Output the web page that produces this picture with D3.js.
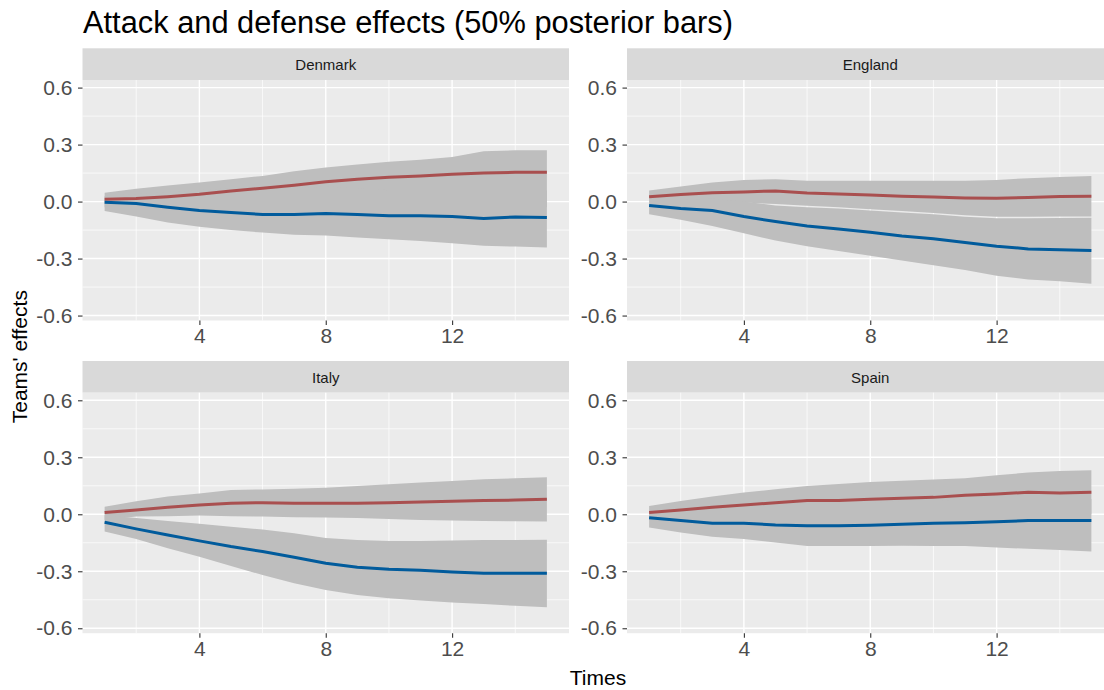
<!DOCTYPE html>
<html>
<head>
<meta charset="utf-8">
<script src="https://cdn.jsdelivr.net/npm/d3@7"></script>
<style>
  body { margin: 0; background: #fff; }
  svg { display: block; font-family: "Liberation Sans", Arial, sans-serif; }
</style>
</head>
<body>
<div id="chart"></div>
<script>
// data
const times = [1, 2, 3, 4, 5, 6, 7, 8, 9, 10, 11, 12, 13, 14, 15];
const teams = ["Denmark", "England", "Italy", "Spain"];
const xTicks = [4, 8, 12];
const xMinor = [2, 6, 10, 14];
const yTicks = [-0.6, -0.3, 0, 0.3, 0.6];
const yMinor = [-0.45, -0.15, 0.15, 0.45];

// Denmark
const denmarkAtt   = [0.012, 0.016, 0.026, 0.039, 0.056, 0.070, 0.086, 0.104, 0.118, 0.128, 0.135, 0.144, 0.151, 0.154, 0.154];
const denmarkAttHi = [0.047, 0.067, 0.085, 0.100, 0.118, 0.135, 0.160, 0.180, 0.195, 0.210, 0.220, 0.235, 0.265, 0.270, 0.270];
const denmarkAttLo = [-0.03, -0.04, -0.05, -0.06, -0.06, -0.06, -0.05, -0.04, -0.03, -0.03, -0.03, -0.03, -0.03, -0.03, -0.03];
const denmarkDef   = [-0.004, -0.010, -0.030, -0.047, -0.058, -0.068, -0.068, -0.063, -0.068, -0.075, -0.074, -0.079, -0.089, -0.081, -0.084];
const denmarkDefHi = [0.03, 0.04, 0.05, 0.06, 0.07, 0.07, 0.07, 0.08, 0.07, 0.06, 0.06, 0.06, 0.06, 0.06, 0.06];
const denmarkDefLo = [-0.050, -0.079, -0.110, -0.133, -0.150, -0.163, -0.175, -0.179, -0.189, -0.198, -0.207, -0.220, -0.233, -0.237, -0.242];

// England
const englandAtt   = [0.026, 0.037, 0.046, 0.051, 0.056, 0.045, 0.040, 0.034, 0.028, 0.024, 0.019, 0.017, 0.022, 0.027, 0.028];
const englandAttHi = [0.058, 0.079, 0.100, 0.114, 0.118, 0.110, 0.109, 0.109, 0.110, 0.110, 0.110, 0.114, 0.123, 0.130, 0.135];
const englandAttLo = [-0.005, 0.000, 0.000, -0.005, -0.013, -0.022, -0.030, -0.040, -0.050, -0.060, -0.072, -0.080, -0.080, -0.079, -0.078];
const englandDef   = [-0.021, -0.037, -0.047, -0.079, -0.105, -0.128, -0.144, -0.161, -0.181, -0.196, -0.216, -0.235, -0.249, -0.254, -0.258];
const englandDefHi = [0.010, 0.010, 0.015, 0.000, -0.020, -0.030, -0.037, -0.047, -0.057, -0.067, -0.080, -0.088, -0.088, -0.087, -0.085];
const englandDefLo = [-0.067, -0.096, -0.128, -0.167, -0.205, -0.235, -0.260, -0.285, -0.310, -0.335, -0.360, -0.390, -0.410, -0.420, -0.433];

// Italy
const italyAtt   = [0.009, 0.023, 0.037, 0.049, 0.058, 0.061, 0.058, 0.058, 0.058, 0.061, 0.065, 0.068, 0.072, 0.075, 0.079];
const italyAttHi = [0.040, 0.068, 0.093, 0.110, 0.128, 0.131, 0.135, 0.139, 0.149, 0.158, 0.167, 0.175, 0.184, 0.190, 0.195];
const italyAttLo = [-0.030, -0.012, -0.010, -0.007, -0.010, -0.012, -0.015, -0.017, -0.020, -0.025, -0.030, -0.033, -0.035, -0.037, -0.038];
const italyDef   = [-0.042, -0.077, -0.109, -0.140, -0.170, -0.196, -0.226, -0.258, -0.279, -0.289, -0.295, -0.304, -0.310, -0.310, -0.310];
const italyDefHi = [-0.005, -0.020, -0.035, -0.050, -0.065, -0.080, -0.100, -0.125, -0.135, -0.140, -0.140, -0.138, -0.136, -0.135, -0.134];
const italyDefLo = [-0.091, -0.130, -0.179, -0.223, -0.272, -0.320, -0.363, -0.398, -0.425, -0.442, -0.454, -0.465, -0.472, -0.482, -0.489];

// Spain
const spainAtt   = [0.009, 0.023, 0.037, 0.049, 0.061, 0.072, 0.072, 0.079, 0.084, 0.089, 0.100, 0.107, 0.116, 0.112, 0.116];
const spainAttHi = [0.044, 0.070, 0.093, 0.114, 0.132, 0.149, 0.160, 0.170, 0.177, 0.183, 0.190, 0.205, 0.220, 0.228, 0.232];
const spainAttLo = [-0.03, -0.04, -0.04, -0.04, -0.04, -0.04, -0.03, -0.03, -0.02, -0.02, -0.01, -0.01, 0.00, 0.00, 0.00];
const spainDef   = [-0.018, -0.033, -0.047, -0.047, -0.056, -0.061, -0.061, -0.058, -0.053, -0.047, -0.044, -0.039, -0.033, -0.033, -0.033];
const spainDefHi = [0.02, 0.03, 0.04, 0.05, 0.05, 0.06, 0.06, 0.06, 0.07, 0.07, 0.08, 0.08, 0.08, 0.08, 0.08];
const spainDefLo = [-0.070, -0.096, -0.118, -0.130, -0.149, -0.167, -0.167, -0.167, -0.165, -0.167, -0.167, -0.175, -0.182, -0.188, -0.196];

const series = {
  Denmark: { att: denmarkAtt, attHi: denmarkAttHi, attLo: denmarkAttLo, def: denmarkDef, defHi: denmarkDefHi, defLo: denmarkDefLo },
  England: { att: englandAtt, attHi: englandAttHi, attLo: englandAttLo, def: englandDef, defHi: englandDefHi, defLo: englandDefLo },
  Italy:   { att: italyAtt,   attHi: italyAttHi,   attLo: italyAttLo,   def: italyDef,   defHi: italyDefHi,   defLo: italyDefLo },
  Spain:   { att: spainAtt,   attHi: spainAttHi,   attLo: spainAttLo,   def: spainDef,   defHi: spainDefHi,   defLo: spainDefLo }
};

// layout
const W = 1104, H = 690;
const colX = [82.5, 627], panelW = 486.5;
const rowY = [48.3, 361], stripH = 31.7, panelH = 240.5;
const attColor = "#A94F4F", defColor = "#015B9C", ribbonFill = "#BEBEBE";

const svg = d3.select("#chart")
  .append("svg")
    .attr("width", W)
    .attr("height", H);

const x = d3.scaleLinear().domain([0.3, 15.7]).range([0, panelW]);
const y = d3.scaleLinear().domain([-0.626, 0.64]).range([panelH, 0]);

const band = (lo, hi) => d3.area()
  .x((d, i) => x(times[i]))
  .y0((d, i) => y(lo[i]))
  .y1((d, i) => y(hi[i]));

const line = d3.line()
  .x((d, i) => x(times[i]))
  .y(d => y(d));

teams.forEach((team, k) => {
  const col = k % 2, row = Math.floor(k / 2);
  const s = series[team];

  // strip
  const strip = svg.append("g")
    .attr("transform", `translate(${colX[col]},${rowY[row]})`);
  strip.append("rect")
    .attr("width", panelW)
    .attr("height", stripH)
    .attr("fill", "#D9D9D9");
  strip.append("text")
    .attr("x", panelW / 2)
    .attr("y", 22)
    .attr("text-anchor", "middle")
    .attr("fill", "#1A1A1A")
    .style("font-size", "15px")
    .text(team);

  const g = svg.append("g")
    .attr("transform", `translate(${colX[col]},${rowY[row] + stripH})`);

  g.append("rect")
    .attr("width", panelW)
    .attr("height", panelH)
    .attr("fill", "#EBEBEB");

  // grid
  g.selectAll(".ymin").data(yMinor).join("line")
    .attr("x1", 0).attr("x2", panelW)
    .attr("y1", d => y(d)).attr("y2", d => y(d))
    .attr("stroke", "#fff").attr("stroke-width", 0.7);
  g.selectAll(".xmin").data(xMinor).join("line")
    .attr("y1", 0).attr("y2", panelH)
    .attr("x1", d => x(d)).attr("x2", d => x(d))
    .attr("stroke", "#fff").attr("stroke-width", 0.7);
  g.selectAll(".ymaj").data(yTicks).join("line")
    .attr("x1", 0).attr("x2", panelW)
    .attr("y1", d => y(d)).attr("y2", d => y(d))
    .attr("stroke", "#fff").attr("stroke-width", 1.4);
  g.selectAll(".xmaj").data(xTicks).join("line")
    .attr("y1", 0).attr("y2", panelH)
    .attr("x1", d => x(d)).attr("x2", d => x(d))
    .attr("stroke", "#fff").attr("stroke-width", 1.4);

  // ribbons
  g.append("path")
    .attr("d", band(s.attLo, s.attHi)(times))
    .attr("fill", ribbonFill);
  g.append("path")
    .attr("d", band(s.defLo, s.defHi)(times))
    .attr("fill", ribbonFill);

  // lines
  g.append("path")
    .attr("d", line(s.att))
    .attr("fill", "none")
    .attr("stroke", attColor)
    .attr("stroke-width", 3);
  g.append("path")
    .attr("d", line(s.def))
    .attr("fill", "none")
    .attr("stroke", defColor)
    .attr("stroke-width", 3);

  // axes
  const yAxis = g.append("g")
    .call(d3.axisLeft(y).tickValues(yTicks).tickFormat(d => d.toFixed(1)).tickSize(4.5).tickPadding(5.5));
  const xAxis = g.append("g")
    .attr("transform", `translate(0,${panelH})`)
    .call(d3.axisBottom(x).tickValues(xTicks).tickFormat(d => d).tickSize(4.5).tickPadding(3));
  [yAxis, xAxis].forEach(a => {
    a.select(".domain").remove();
    a.selectAll(".tick line").attr("stroke", "#333333").attr("stroke-width", 1.1);
    a.selectAll(".tick text")
      .attr("fill", "#4D4D4D")
      .style("font-size", "21px")
      .style("font-family", "'Liberation Sans', Arial, sans-serif");
  });
});

// titles
svg.append("text")
  .attr("x", 83)
  .attr("y", 32.5)
  .style("font-size", "30.8px")
  .attr("fill", "#000")
  .text("Attack and defense effects (50% posterior bars)");

svg.append("text")
  .attr("x", 598)
  .attr("y", 685)
  .attr("text-anchor", "middle")
  .style("font-size", "21px")
  .text("Times");

svg.append("text")
  .attr("transform", "translate(27,356.7) rotate(-90)")
  .attr("text-anchor", "middle")
  .style("font-size", "21px")
  .text("Teams' effects");
</script>
</body>
</html>
